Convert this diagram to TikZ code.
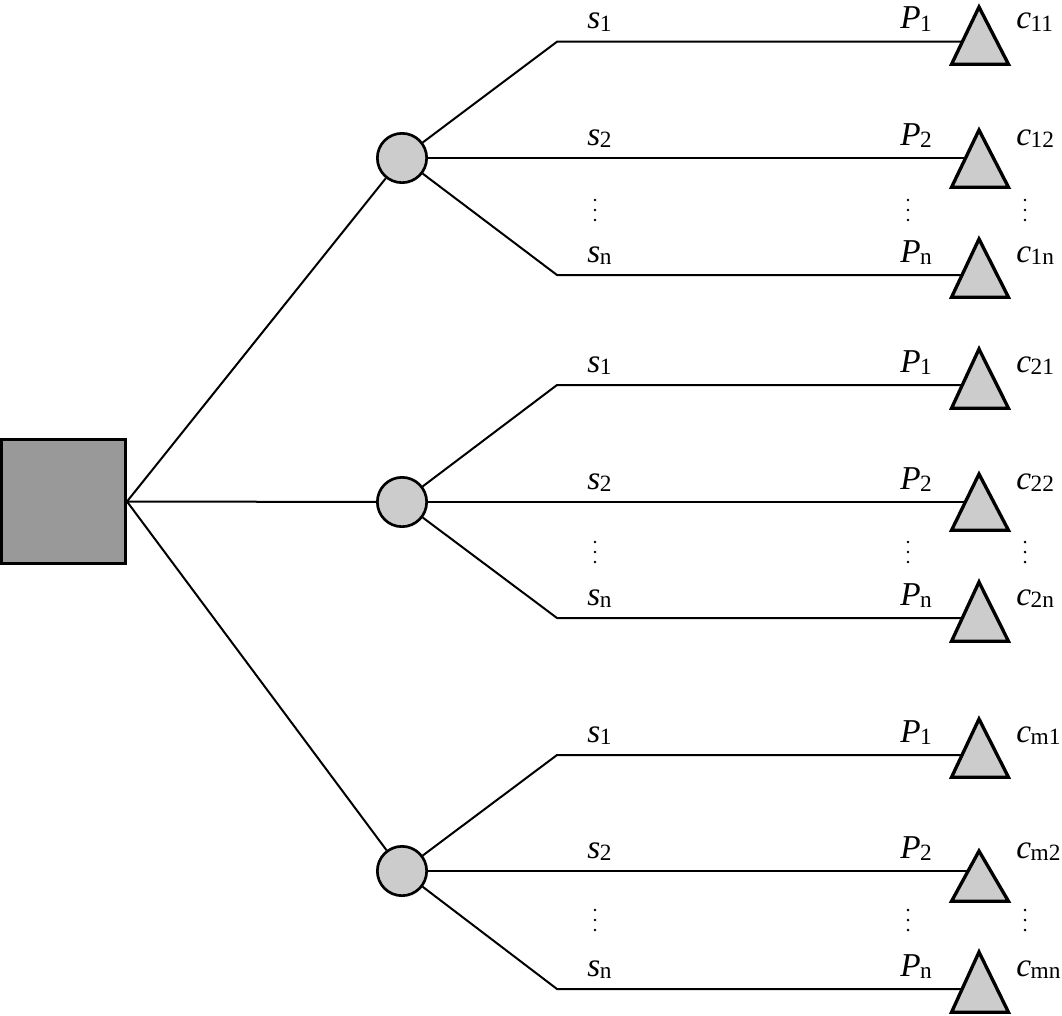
\documentclass[tikz,border=0pt]{standalone}
\usepackage{fontspec}
\setmainfont{Liberation Serif}
\definecolor{decgray}{HTML}{999999}
\definecolor{lightgray}{HTML}{CCCCCC}
\newcommand{\lbl}[2]{\textit{#1}\kern-0.3pt\raisebox{-2pt}{\fontsize{17.5}{17.5}\selectfont #2}}
\begin{document}
\begin{tikzpicture}[x=0.75pt,y=-0.75pt,
  conn/.style={line width=1.5pt},
  dec/.style={draw, rectangle, line width=2.25pt, fill=decgray, minimum size=93pt, inner sep=0pt},
  chance/.style={draw, circle, line width=2pt, fill=lightgray, minimum size=37pt, inner sep=0pt},
  tri/.style={draw, line width=2.5pt, fill=lightgray, line join=miter},
  lab/.style={anchor=base west, inner sep=0pt, font=\fontsize{25}{25}\selectfont},
  vdot/.style={fill, circle, inner sep=0pt, minimum size=2.2pt}]
\useasboundingbox (0,0) rectangle (1062,1015);

% decision node and chance nodes
\node[dec] (sq) at (63.5,501.5) {};
\node[chance] (g1) at (402,158) {};
\node[chance] (g2) at (402,502) {};
\node[chance] (g3) at (402,871) {};
\draw[conn] (sq.east) -- (g1);
\draw[conn] (sq.east) -- (g2);
\draw[conn] (sq.east) -- (g3);

% rows: name / line y / s-sub / c-sub
\foreach \r/\y/\ss/\cs in {
  r11/41.7/1/11, r12/158/2/12, r1n/275/n/1n,
  r21/385/1/21, r22/502/2/22, r2n/618/n/2n,
  r31/755/1/m1, r32/871/2/m2, r3n/989/n/mn}{
  \coordinate (b\r) at (557,\y);
  \coordinate (t\r) at (979,\y);
  \node[lab] (s\r) at (587,\y-13) {\lbl{s}{\ss}};
  \node[lab] (p\r) at (900,\y-13) {\lbl{P}{\ss}};
  \node[lab] (c\r) at (1016,\y-13) {\lbl{c}{\cs}};
}

% branches
\draw[conn] (g1) -- (br11) -- (tr11);
\draw[conn] (g1) -- (tr12);
\draw[conn] (g1) -- (br1n) -- (tr1n);
\draw[conn] (g2) -- (br21) -- (tr21);
\draw[conn] (g2) -- (tr22);
\draw[conn] (g2) -- (br2n) -- (tr2n);
\draw[conn] (g3) -- (br31) -- (tr31);
\draw[conn] (g3) -- (tr32);
\draw[conn] (g3) -- (br3n) -- (tr3n);

% terminal triangles
\foreach \ta/\tb in {3/66, 126/189, 235/299,
  345/410, 470/532, 578/643,
  715/779, 847/903, 948/1014}{
  \draw[tri] (979,{\ta+4}) -- (1008.5,{\tb-1.7}) -- (951.5,{\tb-1.7}) -- cycle;
}

% vertical ellipses
\foreach \x [count=\i] in {595,908,1025}{
  \foreach \yc [count=\j] in {210,552,920}{
    \node[vdot] (da\i\j) at (\x,\yc-10) {};
    \node[vdot] (db\i\j) at (\x,\yc) {};
    \node[vdot] (dc\i\j) at (\x,\yc+10) {};
  }
}
\end{tikzpicture}
\end{document}
